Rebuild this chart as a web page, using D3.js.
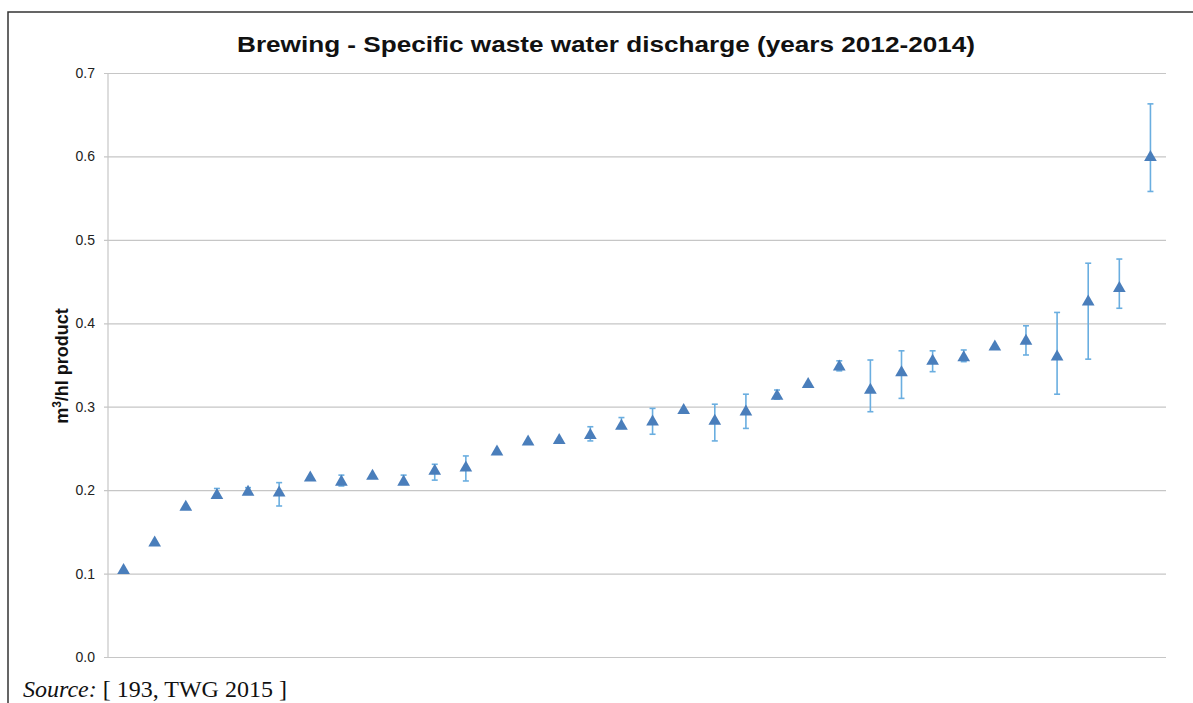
<!DOCTYPE html>
<html><head><meta charset="utf-8">
<script src="https://cdn.jsdelivr.net/npm/d3@7"></script>
<style>body{margin:0;background:#fff}</style>
</head><body>
<svg id="c" width="1193" height="703"></svg>
<script>
const categories = d3.range(1, 35).map(String);
const values = [0.105,0.138,0.181,0.195,0.199,0.198,0.216,0.211,0.218,0.211,0.224,0.228,0.247,0.259,0.261,0.267,0.278,0.283,0.297,0.284,0.295,0.314,0.328,0.349,0.321,0.342,0.356,0.360,0.373,0.380,0.361,0.427,0.443,0.600];
const errHigh = [null,null,null,0.202,0.203,0.209,null,0.218,null,0.218,0.231,0.241,null,null,null,0.276,0.287,0.298,null,0.303,0.315,0.320,null,0.355,0.356,0.367,0.367,0.368,null,0.397,0.413,0.472,0.477,0.663];
const errLow  = [null,null,null,0.193,0.195,0.181,null,0.205,null,0.207,0.212,0.211,null,null,null,0.259,0.274,0.267,null,0.259,0.274,0.309,null,0.343,0.294,0.310,0.342,0.354,null,0.362,0.315,0.357,0.418,0.558];
const yTicks = [0,0.1,0.2,0.3,0.4,0.5,0.6,0.7];

const svg = d3.select("#c");
const L = 108, R = 1166, T = 73, B = 657;
const x = d3.scaleBand().domain(categories).range([L, R]);
const y = d3.scaleLinear().domain([0, 0.7]).range([B, T]);

// frame
svg.append("path").attr("d", "M8,703 L8,12 L1193,12").attr("fill","none").attr("stroke","#333").attr("stroke-width",1.5);

// grid + y axis
const ya = d3.axisLeft(y).tickValues(yTicks).tickFormat(d3.format(".1f")).tickSize(0).tickPadding(9);
const g = svg.append("g").attr("transform", `translate(${L-4},0)`).call(ya);
g.select(".domain").remove();
g.selectAll(".tick line").attr("stroke", "#c6c6c6").attr("stroke-width", 1.2).attr("x1", 0).attr("x2", R - L + 4);
g.selectAll(".tick text").attr("font-family", "Liberation Sans, Arial, sans-serif").attr("font-size", 14).attr("fill", "#222");
svg.append("line").attr("x1", L).attr("x2", L).attr("y1", T).attr("y2", B).attr("stroke", "#c6c6c6").attr("stroke-width", 1.2);

// error bars
const eb = svg.append("g");
values.forEach((v, i) => {
  if (errHigh[i] == null) return;
  const cx = x(categories[i]) + x.bandwidth() / 2;
  const y1 = y(errHigh[i]), y2 = y(errLow[i]);
  eb.append("line").attr("x1", cx).attr("x2", cx).attr("y1", y1).attr("y2", y2).attr("stroke", "#6aaee0").attr("stroke-width", 1.6);
  [y1, y2].forEach(yy => eb.append("line").attr("x1", cx - 3).attr("x2", cx + 3).attr("y1", yy).attr("y2", yy).attr("stroke", "#6aaee0").attr("stroke-width", 1.6));
});

// markers
const tri = d3.symbol().type(d3.symbolTriangle).size(70);
svg.append("g").selectAll("path").data(values).join("path")
  .attr("d", tri)
  .attr("transform", (d, i) => `translate(${x(categories[i]) + x.bandwidth()/2},${y(d) + 1})`)
  .attr("fill", "#4a7ebb");

// title
svg.append("text").attr("x", 606).attr("y", 52).attr("text-anchor", "middle")
  .attr("font-family", "Liberation Sans, Arial, sans-serif").attr("font-weight", "bold").attr("font-size", 22)
  .attr("fill", "#111").attr("textLength", 738).attr("lengthAdjust", "spacingAndGlyphs")
  .text("Brewing - Specific waste water discharge (years 2012-2014)");

// y label
const yl = svg.append("text").attr("transform", "translate(68,366) rotate(-90)").attr("text-anchor", "middle")
  .attr("font-family", "Liberation Sans, Arial, sans-serif").attr("font-weight", "bold").attr("font-size", 18).attr("fill", "#111");
yl.append("tspan").text("m");
yl.append("tspan").attr("font-size", 12).attr("dy", -7).text("3");
yl.append("tspan").attr("dy", 7).text("/hl product");

// source
const src = svg.append("text").attr("x", 23).attr("y", 697)
  .attr("font-family", "Liberation Serif, Times New Roman, serif").attr("font-size", 24).attr("fill", "#111");
src.append("tspan").attr("font-style", "italic").text("Source:");
src.append("tspan").text(" [ 193, TWG 2015 ]");
</script>
</body></html>
